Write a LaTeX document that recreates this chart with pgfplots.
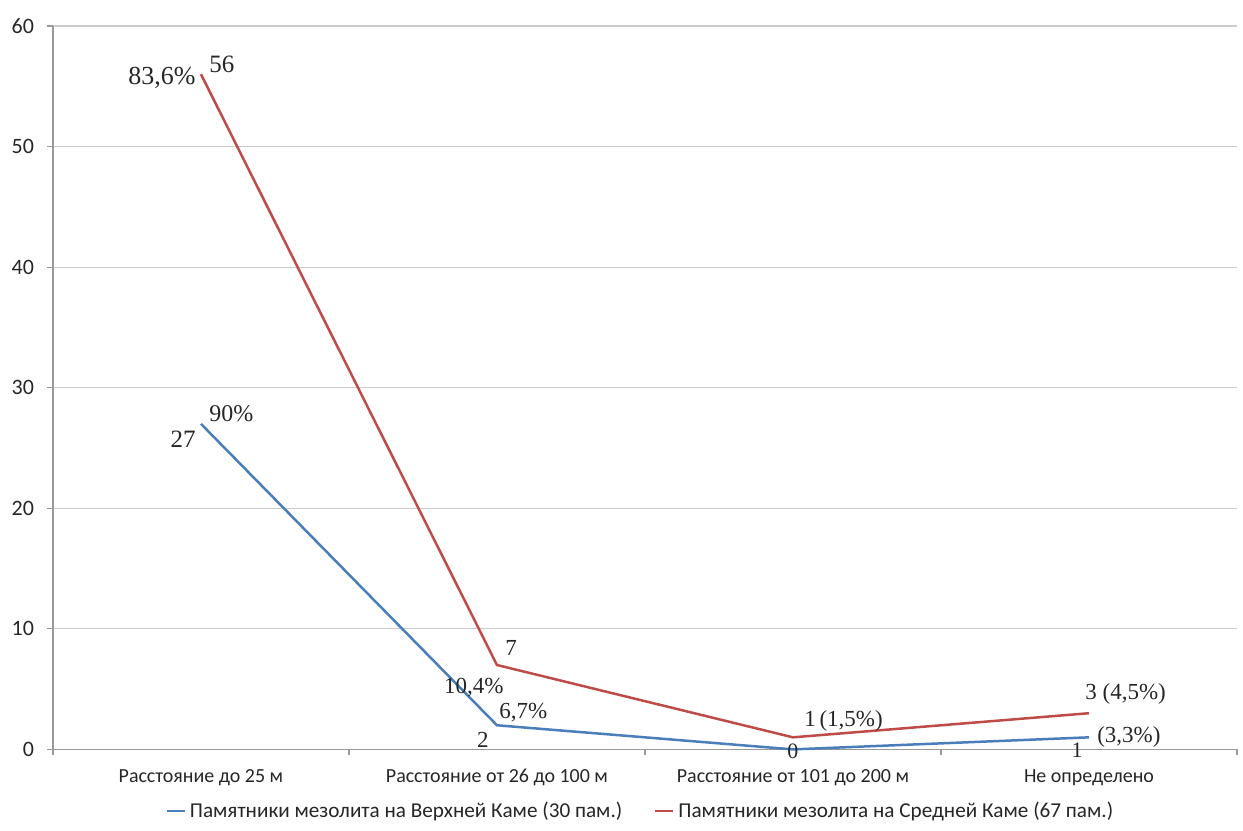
\documentclass[border=0pt]{standalone}
\usepackage{fontspec}
\setmainfont{Carlito}
\newfontfamily\seriffont{Liberation Serif}
\usepackage{pgfplots}
\pgfplotsset{compat=1.18}
\definecolor{sblue}{HTML}{4A7EBB}
\definecolor{sred}{HTML}{BE4B48}
\begin{document}
\begin{tikzpicture}
\useasboundingbox (-26.5pt,-40.5pt) rectangle (595.5pt,375pt);
\begin{axis}[
  at={(0,0)}, anchor=south west,
  scale only axis, width=592.5pt, height=362pt,
  xmin=-0.5, xmax=3.5, ymin=0, ymax=60,
  axis lines*=left,
  axis line style={gray!80, line width=0.6pt},
  xtick={0,1,2,3},
  xticklabels={Расстояние до 25 м, Расстояние от 26 до 100 м, Расстояние от 101 до 200 м, Не определено},
  major x tick style={draw=none},
  minor xtick={-0.5,0.5,1.5,2.5,3.5},
  minor x tick style={gray!80, line width=0.6pt},
  minor tick length=3pt,
  ytick={0,10,...,60},
  major y tick style={gray!80, line width=0.6pt},
  major tick length=3pt,
  tick align=outside,
  ymajorgrids, grid style={gray!40, line width=0.6pt},
  /pgf/number format/assume math mode=true,
  xticklabel style={font=\fontsize{10}{12}\selectfont, text=black!85, yshift=-3.5pt},
  yticklabel style={font=\fontsize{11}{13}\selectfont, text=black!85, xshift=-3pt},
  legend columns=2,
  legend style={at={(0.497,-0.085)}, anchor=center, draw=none, font=\fontsize{10.6}{12}\selectfont, text=black!85,
    /tikz/every even column/.append style={column sep=14pt}},
  legend image code/.code={\draw[#1, line width=1.1pt] (0pt,0pt) -- (9pt,0pt);},
  clip=false,
]
\addplot[sblue, line width=1.25pt] coordinates {(0,27) (1,2) (2,0) (3,1)};
\addlegendentry{Памятники мезолита на Верхней Каме (30 пам.)}
\addplot[sred, line width=1.25pt] coordinates {(0,56) (1,7) (2,1) (3,3)};
\addlegendentry{Памятники мезолита на Средней Каме (67 пам.)}
\begin{scope}[every node/.style={font=\seriffont\fontsize{11.5}{13}\selectfont, text=black!85, inner sep=1pt}]
\node[anchor=north east, font=\seriffont\fontsize{12.5}{14}\selectfont] at (axis cs:-0.01,26.6) {27};
\node[anchor=south west, font=\seriffont\fontsize{12}{14}\selectfont] at (axis cs:0.02,27.0) {90\%};
\node[anchor=north east, font=\seriffont\fontsize{13}{15}\selectfont] at (axis cs:-0.01,56.8) {83,6\%};
\node[anchor=south west, font=\seriffont\fontsize{12.5}{14}\selectfont] at (axis cs:0.02,55.9) {56};
\node[anchor=south west] at (axis cs:1.02,7.6) {7};
\node[anchor=north east] at (axis cs:1.03,6.1) {10,4\%};
\node[anchor=south west] at (axis cs:1.0,2.1) {6,7\%};
\node[anchor=north east] at (axis cs:0.98,1.6) {2};
\node[anchor=north, inner sep=0pt, font=\seriffont\fontsize{11}{12}\selectfont] at (axis cs:2.0,0.45) {0};
\node[anchor=south west] at (axis cs:2.03,1.3) {1\,(1,5\%)};
\node[anchor=south west] at (axis cs:2.98,3.5) {3 (4,5\%)};
\node[anchor=north east, inner sep=0pt, font=\seriffont\fontsize{11}{12}\selectfont] at (axis cs:2.98,0.55) {1};
\node[anchor=west] at (axis cs:3.02,1.0) {(3,3\%)};
\end{scope}
\end{axis}
\end{tikzpicture}
\end{document}
